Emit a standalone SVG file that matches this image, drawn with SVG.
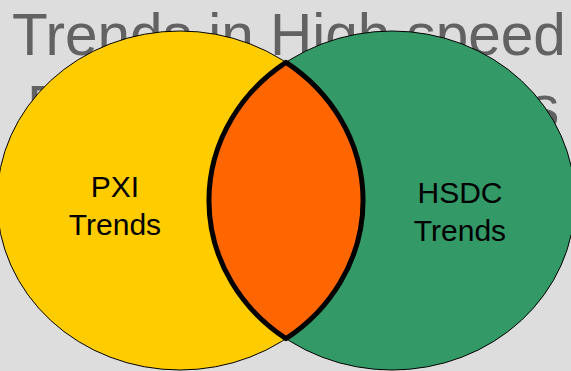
<svg xmlns="http://www.w3.org/2000/svg" width="571" height="371" viewBox="0 0 571 371">
  <style>
    .title { font-family: "Liberation Sans", Arial, sans-serif; font-size: 58.5px; fill: #626262; }
    .label { font-family: "Liberation Sans", Arial, sans-serif; font-size: 30px; fill: #000000; text-anchor: middle; }
    .set { stroke: #000000; stroke-width: 1; }
  </style>
  <rect x="0" y="0" width="571" height="371" fill="#dddddd"/>
  <g id="title">
    <text class="title" x="12" y="55">Trends in High speed</text>
    <text class="title" x="27" y="127">D</text>
    <text class="title" x="530" y="127">s</text>
  </g>
  <g id="pxi">
    <ellipse class="set" cx="180" cy="200.5" rx="183" ry="169.5" fill="#ffcc00"/>
  </g>
  <g id="hsdc">
    <ellipse class="set" cx="392" cy="200.5" rx="183" ry="169.5" fill="#339966"/>
  </g>
  <g id="overlap">
    <path d="M286 62.3 A183 169.5 0 0 0 286 338.7 A183 169.5 0 0 0 286 62.3 Z" fill="#ff6600" stroke="#000000" stroke-width="5" stroke-linejoin="round"/>
  </g>
  <g id="labels">
    <text class="label" x="115" y="197">PXI</text>
    <text class="label" x="115" y="235">Trends</text>
    <text class="label" x="460" y="203">HSDC</text>
    <text class="label" x="460" y="241">Trends</text>
  </g>
</svg>
